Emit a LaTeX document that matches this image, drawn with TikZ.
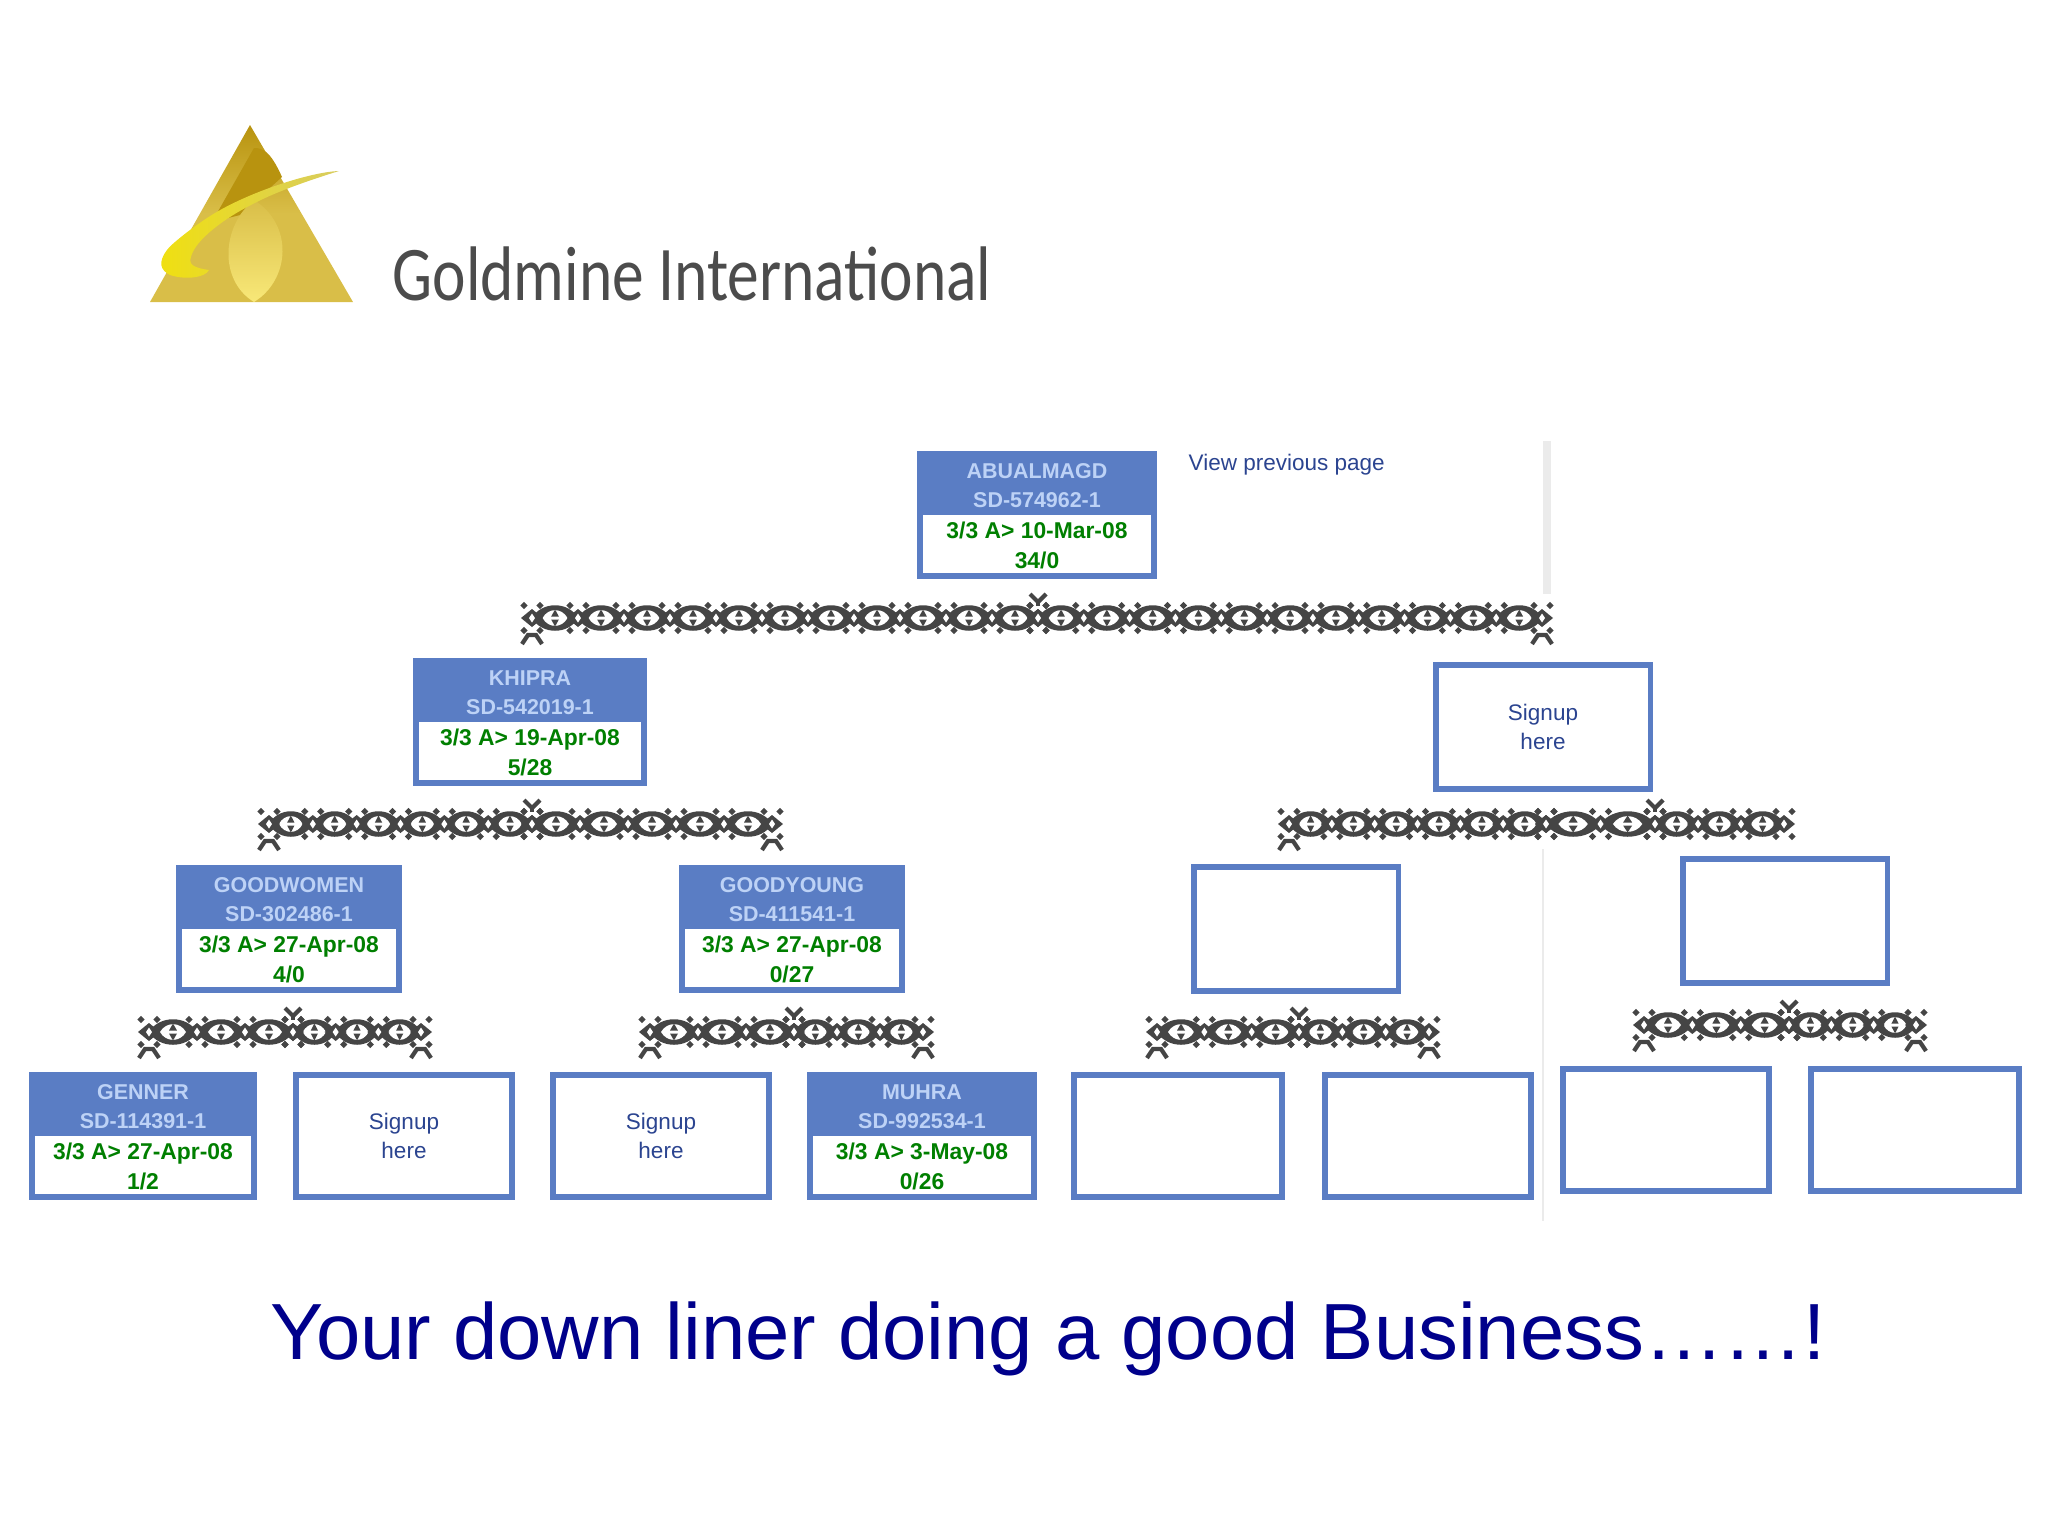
\documentclass[tikz,border=0pt]{standalone}
\usepackage{fontspec}
\setmainfont{Liberation Sans}
\newfontfamily\logofont{Carlito}
\usetikzlibrary{calc,shapes.geometric}

\definecolor{boxblue}{HTML}{5A7DC4}
\definecolor{headtext}{HTML}{BDD2F6}
\definecolor{okgreen}{HTML}{007F00}
\definecolor{linkblue}{HTML}{2B4490}
\definecolor{ornament}{HTML}{454545}
\definecolor{titleblue}{HTML}{00008B}
\definecolor{logodark}{HTML}{B8930F}
\definecolor{logomid}{HTML}{D9BE48}
\definecolor{logopale}{HTML}{F8E878}
\definecolor{logobright}{HTML}{F0E010}
\definecolor{logotip}{HTML}{D8CC60}

\tikzset{
  emptybox/.style={draw=boxblue,line width=1.6pt,fill=white,inner sep=0pt},
  headbox/.style={draw=boxblue,line width=1.6pt,fill=boxblue,inner sep=0pt},
  lowbox/.style={fill=white,inner sep=0pt,anchor=south},
  headtxt/.style={text=headtext,font=\fontsize{6.1}{8.4}\selectfont\bfseries,align=center},
  lowtxt/.style={text=okgreen,font=\fontsize{6.5}{8.4}\selectfont\bfseries,align=center},
  plaintxt/.style={text=linkblue,font=\fontsize{6.4}{8.4}\selectfont,align=center,inner sep=0pt},
  eyelink/.pic={
    \fill[ornament] (0,0) .. controls (10,-17) and (38,-17) .. (48,0)
                          .. controls (38,17) and (10,17) .. (0,0);
    \fill[white] (11,0) .. controls (17,-10.5) and (31,-10.5) .. (37,0)
                        .. controls (31,10.5) and (17,10.5) .. (11,0);
    \fill[ornament] (24,-8.5) -- (28,-1.5) -- (20,-1.5) -- cycle;
    \fill[ornament] (24,8.5) -- (28,1.5) -- (20,1.5) -- cycle;
  },
  jointlink/.pic={
    \fill[ornament] (-11,0) -- (0,-9) -- (11,0) -- (0,9) -- cycle;
    \fill[white] (-3,0) -- (0,-4.5) -- (3,0) -- (0,4.5) -- cycle;
    \foreach \sx in {-8,8} \foreach \sy in {-12.5,12.5}
      \fill[ornament] (\sx-3.6,\sy) -- (\sx,\sy-3.6) -- (\sx+3.6,\sy) -- (\sx,\sy+3.6) -- cycle;
  },
  hatlink/.pic={
    \draw[ornament,line width=1.2pt] (-10,9) -- (-4,0) -- (4,0) -- (10,9);
  },
  veelink/.pic={
    \draw[ornament,line width=1.2pt] (-8,-6) -- (0,2) -- (8,-6);
    \draw[ornament,line width=1.2pt] (0,2) -- (0,6);
  }
}

% run of links between two named ends
\newcommand{\chainrun}[4]{
  \foreach \k in {1,...,#3}{
    \pic[xscale=#4] at ($(#1)!{(\k-1)/#3}!(#2)$) {eyelink};
    \pic at ($(#1)!{(\k-1)/#3}!(#2)$) {jointlink};
  }
  \pic at (#2) {jointlink};
}

% member box with filled head and white lower part
\newcommand{\member}[7]{
  \node[headbox,minimum width=#3 cm,minimum height=1.23cm] (#1) at (#2) {};
  \node[lowbox,minimum width=#3 cm-.06cm,minimum height=.58cm] (#1low) at ($(#1.south)+(0,-6)$) {};
  \node[headtxt] (#1head) at ($(#1.north)+(0,35)$) {#4\\#5};
  \node[lowtxt] (#1txt) at ($(#1.south)+(0,-34)$) {#6\\#7};
}

\begin{document}
\begin{tikzpicture}[x=0.01cm,y=-0.01cm]
  \useasboundingbox (0,0) rectangle (2048,1536);

  % logo
  \shade[top color=logodark,bottom color=logomid,middle color=logomid] (250,125) -- (353,302) -- (150,302) -- cycle;
  \fill[logodark] (254,148) .. controls (262,148) and (270,150) .. (282,177)
     -- (240,215) -- (212,222) -- cycle;
  \shade[top color=logomid,bottom color=logopale] (254,200)
     .. controls (294,225) and (290,280) .. (254,302)
     .. controls (218,280) and (222,225) .. (254,200);
  \shade[left color=logobright,right color=logotip] (339,171) .. controls (310,172) and (250,192) .. (215,213)
     .. controls (195,225) and (170,245) .. (167,250)
     .. controls (158,262) and (160,270) .. (170,275)
     .. controls (185,280) and (205,278) .. (209,270)
     .. controls (195,268) and (188,265) .. (191,257)
     .. controls (195,240) and (225,218) .. (251,205)
     .. controls (275,192) and (310,180) .. (339,171);

  \node[text=black!70,font=\fontsize{22}{22}\selectfont\logofont,anchor=base west,xscale=.82,inner sep=0pt] (logotext) at (392,300) {Goldmine International};

  % guide lines
  \draw[black!8,line width=2.2pt] (1547,441) -- (1547,594);
  \draw[black!8,line width=.4pt] (1543,849) -- (1543,1221);

  % top row
  \member{abualmagd}{1037,515}{2.335}{ABUALMAGD}{SD-574962-1}{3/3 A> 10-Mar-08}{34/0}
  \node[plaintxt,anchor=west] (prev) at (1188,465) {View previous page};

  % second row
  \member{khipra}{530,722}{2.275}{KHIPRA}{SD-542019-1}{3/3 A> 19-Apr-08}{5/28}
  \node[emptybox,minimum width=2.145cm,minimum height=1.235cm] (signupA) at (1543,727) {};
  \node[plaintxt] (signupAt) at (signupA) {Signup\\here};

  % third row
  \member{goodwomen}{289,929}{2.205}{GOODWOMEN}{SD-302486-1}{3/3 A> 27-Apr-08}{4/0}
  \member{goodyoung}{792,929}{2.195}{GOODYOUNG}{SD-411541-1}{3/3 A> 27-Apr-08}{0/27}
  \node[emptybox,minimum width=2.045cm,minimum height=1.235cm] (emptyA) at (1296,929) {};
  \node[emptybox,minimum width=2.045cm,minimum height=1.235cm] (emptyB) at (1785,921) {};

  % fourth row
  \member{genner}{143,1136}{2.225}{GENNER}{SD-114391-1}{3/3 A> 27-Apr-08}{1/2}
  \node[emptybox,minimum width=2.155cm,minimum height=1.225cm] (signupB) at (404,1136) {};
  \node[plaintxt] (signupBt) at (signupB) {Signup\\here};
  \node[emptybox,minimum width=2.155cm,minimum height=1.225cm] (signupC) at (661,1136) {};
  \node[plaintxt] (signupCt) at (signupC) {Signup\\here};
  \member{muhra}{922,1136}{2.245}{MUHRA}{SD-992534-1}{3/3 A> 3-May-08}{0/26}
  \node[emptybox,minimum width=2.075cm,minimum height=1.225cm] (emptyC) at (1178,1136) {};
  \node[emptybox,minimum width=2.055cm,minimum height=1.225cm] (emptyD) at (1428,1136) {};
  \node[emptybox,minimum width=2.055cm,minimum height=1.225cm] (emptyE) at (1666,1130) {};
  \node[emptybox,minimum width=2.075cm,minimum height=1.225cm] (emptyF) at (1915,1130) {};

  % bands
  \coordinate (bandAl) at (532,618);  \coordinate (bandAm) at (1038,618); \coordinate (bandAr) at (1542,618);
  \coordinate (bandBl) at (269,824);  \coordinate (bandBm) at (532,824);  \coordinate (bandBr) at (772,824);
  \coordinate (bandCl) at (1289,824); \coordinate (bandCm) at (1546,824); \coordinate (bandCn) at (1655,824); \coordinate (bandCr) at (1784,824);
  \coordinate (bandDl) at (149,1032); \coordinate (bandDm) at (293,1032); \coordinate (bandDr) at (421,1032);
  \coordinate (bandEl) at (650,1032); \coordinate (bandEm) at (794,1032); \coordinate (bandEr) at (923,1032);
  \coordinate (bandFl) at (1157,1032);\coordinate (bandFm) at (1299,1032);\coordinate (bandFr) at (1429,1032);
  \coordinate (bandGl) at (1644,1025);\coordinate (bandGm) at (1789,1025);\coordinate (bandGr) at (1916,1025);

  \chainrun{bandAl}{bandAm}{11}{.96}
  \chainrun{bandAm}{bandAr}{11}{.96}
  \chainrun{bandBl}{bandBm}{6}{.91}
  \chainrun{bandBm}{bandBr}{5}{1}
  \chainrun{bandCl}{bandCm}{6}{.9}
  \chainrun{bandCm}{bandCn}{2}{1.13}
  \chainrun{bandCn}{bandCr}{3}{.9}
  \chainrun{bandDl}{bandDm}{3}{1}
  \chainrun{bandDm}{bandDr}{3}{.89}
  \chainrun{bandEl}{bandEm}{3}{1}
  \chainrun{bandEm}{bandEr}{3}{.89}
  \chainrun{bandFl}{bandFm}{3}{1}
  \chainrun{bandFm}{bandFr}{3}{.89}
  \chainrun{bandGl}{bandGm}{3}{1}
  \chainrun{bandGm}{bandGr}{3}{.89}

  \foreach \pos in {(532,635),(1542,635),(269,841),(772,841),(1289,841),(149,1049),(421,1049),(650,1049),(923,1049),(1157,1049),(1429,1049),(1644,1042),(1916,1042)}
    \pic at \pos {hatlink};
  \foreach \pos in {(1038,600),(532,806),(1655,806),(293,1014),(794,1014),(1299,1014),(1789,1007)}
    \pic at \pos {veelink};

  % caption
  \node[text=titleblue,font=\fontsize{22.65}{28}\selectfont,anchor=base,inner sep=0pt] (caption) at (1048,1359) {Your down liner doing a good Business……!};
\end{tikzpicture}
\end{document}
